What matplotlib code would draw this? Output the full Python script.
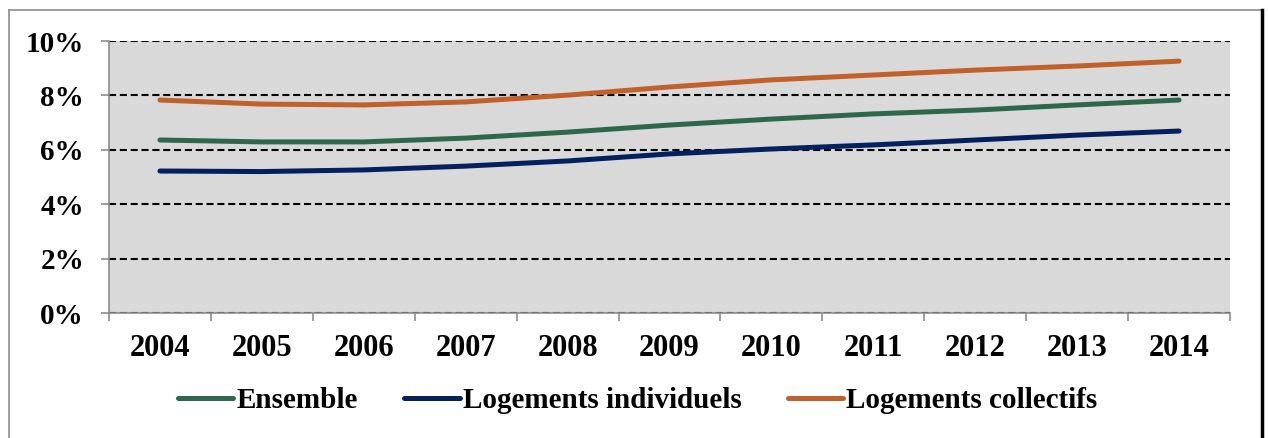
import matplotlib.pyplot as plt
from matplotlib.lines import Line2D
from matplotlib.ticker import FixedLocator, PercentFormatter

years = ['2004', '2005', '2006', '2007', '2008', '2009', '2010', '2011', '2012', '2013', '2014']
ensemble = [6.36, 6.29, 6.29, 6.43, 6.65, 6.91, 7.13, 7.32, 7.46, 7.65, 7.83]
individuels = [5.22, 5.20, 5.26, 5.40, 5.59, 5.85, 6.03, 6.18, 6.36, 6.54, 6.69]
collectifs = [7.83, 7.68, 7.65, 7.76, 8.01, 8.31, 8.57, 8.75, 8.93, 9.08, 9.26]

series = [
    ('Ensemble', ensemble, '#2D684C'),
    ('Logements individuels', individuels, '#03215F'),
    ('Logements collectifs', collectifs, '#C0602A'),
]

plt.rcParams['font.family'] = ['Liberation Serif', 'DejaVu Serif']
plt.rcParams['font.weight'] = 'bold'

W, H = 1268, 438
fig = plt.figure(figsize=(W / 100, H / 100), dpi=100)
ax = fig.add_axes([109 / W, 1 - 313 / H, (1230 - 109) / W, (313 - 41) / H])
ax.set_facecolor('#D9D9D9')

x = list(range(len(years)))
for name, vals, color in series:
    ax.plot(x, vals, color=color, lw=3.6, solid_capstyle='round', label=name, zorder=3)

ax.set_xlim(-0.5, len(years) - 0.5)
ax.set_ylim(0, 10)

ax.set_xticks(x)
ax.set_xticklabels(years)
ax.xaxis.set_minor_locator(FixedLocator([i - 0.5 for i in range(len(years) + 1)]))
ax.tick_params(axis='x', which='major', length=0, pad=15, labelsize=22)
ax.tick_params(axis='x', which='minor', length=6, color='#8C8C8C', width=1.2)

ax.set_yticks(range(0, 11, 2))
ax.yaxis.set_major_formatter(PercentFormatter(decimals=0))
ax.tick_params(axis='y', length=6, color='#8C8C8C', width=1.2, pad=12, labelsize=21)

ax.grid(axis='y', color='black', linestyle=(0, (3.4, 1.8)), linewidth=1.5, zorder=1)
ax.set_axisbelow(True)

for side in ('top', 'right'):
    ax.spines[side].set_visible(False)
for side in ('left', 'bottom'):
    ax.spines[side].set_color('#8C8C8C')
    ax.spines[side].set_linewidth(1.2)

fig.legend(loc='center', bbox_to_anchor=(0.503, 1 - 401 / H), ncol=3, frameon=False,
           fontsize=21, handlelength=1.9, handletextpad=0.1, columnspacing=1.6)

# outer frame of the chart
fig.add_artist(Line2D([9 / W, 9 / W], [0, 1 - 10 / H], color='#8C8C8C', lw=1.2))
fig.add_artist(Line2D([9 / W, 1262 / W], [1 - 10 / H, 1 - 10 / H], color='#8C8C8C', lw=1.2))
fig.add_artist(Line2D([1262 / W, 1262 / W], [0, 1 - 10 / H], color='black', lw=2.5))

fig.savefig('out.png', dpi=100)
